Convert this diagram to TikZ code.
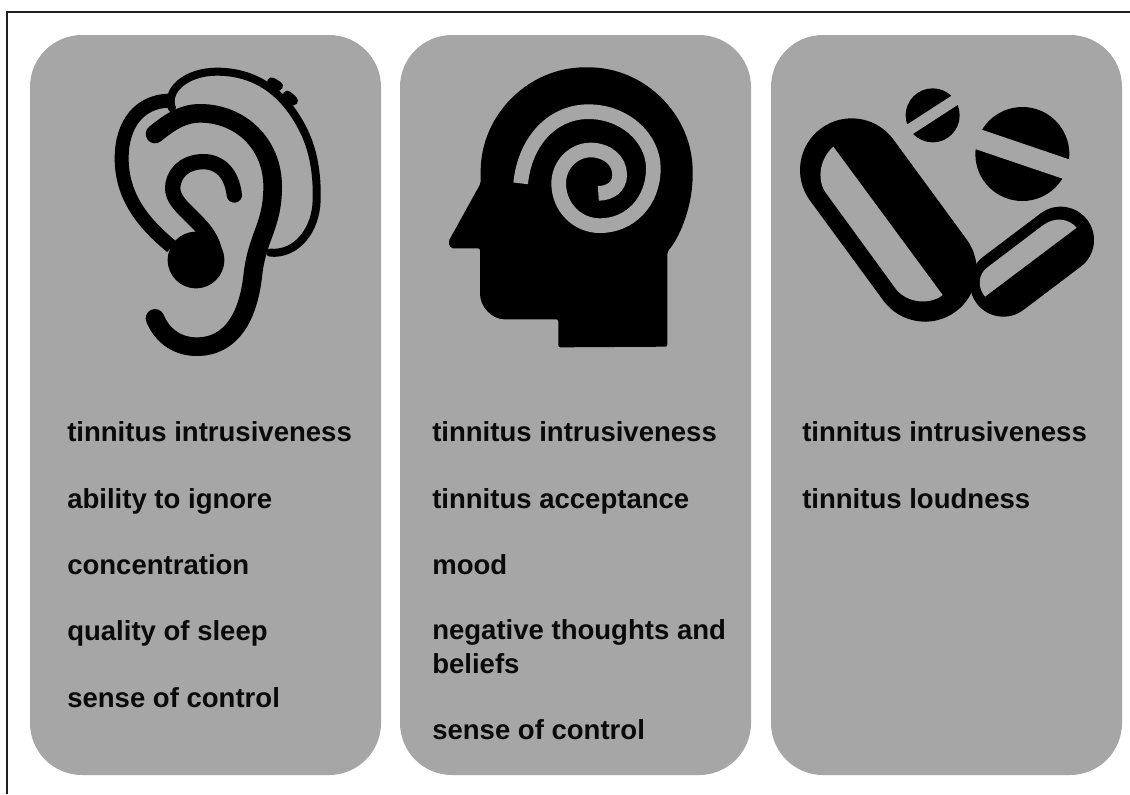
\documentclass[tikz,border=0pt]{standalone}
\usepackage{fontspec}
\setmainfont{Liberation Sans}
\definecolor{panelgray}{HTML}{A6A6A6}
\definecolor{inkblack}{HTML}{000000}
\definecolor{txt}{HTML}{0A0A0A}
\tikzset{
  panel/.style={fill=panelgray,draw=none,rounded corners=52*0.75pt},
  lab/.style={anchor=base west,inner sep=0pt,text=txt,font=\fontsize{20.65}{24}\selectfont\bfseries},
  icon/.style={x=0.25pt,y=-0.25pt},
  ink/.style={draw=inkblack,line cap=round,line join=round},
  cut/.style={draw=panelgray,line cap=butt}
}
\begin{document}
\begin{tikzpicture}[x=0.75pt,y=-0.75pt]
\useasboundingbox (0,0) rectangle (1130,794);
\draw[color=black!88,line width=2.2pt*0.75] (7,794) -- (7,12) -- (1130,12);
\fill[panel] (30,35) rectangle (381,775);
\fill[panel] (400,35) rectangle (751,775);
\fill[panel] (771,35) rectangle (1122,775);
% ear
\begin{scope}[shift={(100,60)},icon]
\fill[inkblack] (288,600) circle (85*0.25pt);
\draw[ink,line width=14pt] (165,775) .. controls (190,835) and (240,860) .. (290,860)
  .. controls (400,860) and (445,760) .. (458,650)
  .. controls (470,530) and (518,500) .. (518,380)
  .. controls (518,250) and (420,160) .. (300,160)
  .. controls (245,160) and (205,190) .. (165,222);
\draw[ink,line width=11.5pt] (403,405) .. controls (395,340) and (360,305) .. (310,305)
  .. controls (250,305) and (218,345) .. (218,385)
  .. controls (218,450) and (340,490) .. (345,590);
\draw[ink,line width=10.5pt,line cap=butt] (215,560) .. controls (130,490) and (65,410) .. (65,295)
  .. controls (65,190) and (120,125) .. (205,122);
\draw[ink,line width=6pt] (216,145) .. controls (195,90) and (260,35) .. (350,35)
  .. controls (480,35) and (560,110) .. (610,210)
  .. controls (640,270) and (652,340) .. (650,420)
  .. controls (648,510) and (590,585) .. (510,578);
\draw[ink,line width=7pt,line cap=round] (515,66) -- (535,78);
\draw[ink,line width=7pt,line cap=round] (562,106) -- (580,122);
\end{scope}
% head
\begin{scope}[shift={(430,60)},icon]
\fill[inkblack,rounded corners=1.5pt] (152,370) -- (152,340)
  .. controls (152,165) and (295,22) .. (470,22)
  .. controls (645,22) and (788,165) .. (788,340)
  .. controls (788,430) and (755,525) .. (712,575)
  -- (712,860) -- (385,862) -- (385,778) -- (230,778)
  .. controls (185,778) and (150,740) .. (150,695)
  -- (150,565) -- (62,565) -- (55,545) -- cycle;
\draw[cut,line width=11pt] (272,370) .. controls (285,240) and (370,155) .. (475,155)
  .. controls (585,155) and (670,235) .. (670,325)
  .. controls (670,425) and (600,497) .. (510,497)
  .. controls (440,497) and (386,440) .. (386,370)
  .. controls (386,315) and (430,270) .. (482,270)
  .. controls (530,270) and (569,300) .. (569,345)
  .. controls (569,380) and (540,400) .. (505,400);
\end{scope}
% pills
\begin{scope}[shift={(790,70)},icon]
\fill[inkblack] (428,136) circle (81*0.25pt);
\draw[cut,line width=8.3pt] (330,197) -- (520,74);
\fill[inkblack] (697,252) circle (141*0.25pt);
\draw[cut,line width=15.3pt] (530,196) -- (860,308);
\draw[ink,line width=77.5pt] (185,300) -- (405,600);
\fill[panelgray] (130,230) -- (458,675) .. controls (420,705) and (355,700) .. (320,660)
  -- (105,365) .. controls (80,325) and (90,265) .. (130,230) -- cycle;
\draw[ink,line width=50pt] (812,510) -- (640,640);
\fill[panelgray] (860,473) -- (585,680) .. controls (560,650) and (565,610) .. (595,590)
  -- (760,465) .. controls (795,440) and (835,445) .. (860,473) -- cycle;
\end{scope}
% labels
\node[lab] (a1) at (67,441) {tinnitus intrusiveness};
\node[lab] (a2) at (67,508) {ability to ignore};
\node[lab] (a3) at (67,574) {concentration};
\node[lab] (a4) at (67,640) {quality of sleep};
\node[lab] (a5) at (67,707) {sense of control};
\node[lab] (b1) at (432,441) {tinnitus intrusiveness};
\node[lab] (b2) at (432,508) {tinnitus acceptance};
\node[lab] (b3) at (432,574) {mood};
\node[lab] (b4) at (432,639) {negative thoughts and};
\node[lab] (b4b) at (432,673) {beliefs};
\node[lab] (b5) at (432,739) {sense of control};
\node[lab] (c1) at (802,441) {tinnitus intrusiveness};
\node[lab] (c2) at (802,508) {tinnitus loudness};
\end{tikzpicture}
\end{document}
